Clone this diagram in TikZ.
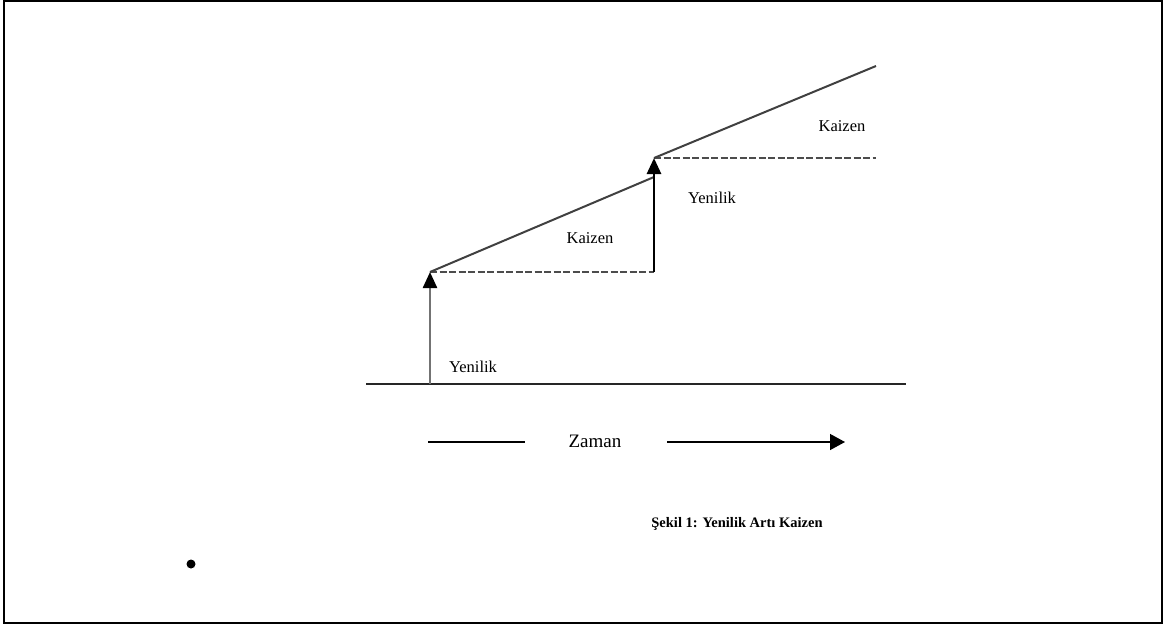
\documentclass[tikz,border=0pt]{standalone}
\usepackage{fontspec}
\setmainfont{Liberation Serif}
\usetikzlibrary{arrows.meta,positioning}

\begin{document}
\begin{tikzpicture}[
    x=1pt, y=-1pt,
    lbl/.style={font=\fontsize{16.5}{18}\selectfont, inner sep=0pt},
    rise/.style={line width=2pt, draw=black!75},
    level/.style={line width=2pt, draw=black!70, dash pattern=on 7pt off 2.5pt},
    jump/.style={line width=2.4pt, -{Triangle[width=14pt,length=16pt,fill=black,color=black]}},
    axis/.style={line width=1.6pt, draw=black!85}
]
  % page frame and fixed size
  \useasboundingbox (0,0) rectangle (1168,625);
  \draw[line width=1.5pt] (4,1) rectangle (1162,623);

  % points of the step curve
  \coordinate (o1) at (430,384);
  \coordinate (p1) at (430,272);
  \coordinate (b2) at (654,272);
  \coordinate (q1) at (654,177);
  \coordinate (p2) at (654,158);
  \coordinate (e1) at (876,158);
  \coordinate (e2) at (876,66);

  % time axis
  \coordinate (axl) at (366,384);
  \coordinate (axr) at (906,384);
  \draw[axis] (axl) -- (axr);

  % dashed levels and kaizen slopes
  \draw[level] (p1) -- (b2);
  \draw[level] (p2) -- (e1);
  \draw[rise] (p1) -- (q1);
  \draw[rise] (p2) -- (e2);

  % innovation jumps
  \draw[jump, draw=black!55] (o1) -- (p1);
  \draw[jump, line width=2.8pt] (b2) -- (p2);

  % labels
  \node[lbl] (yen1) at (473,367) {Yenilik};
  \node[lbl] (kai1) at (590,238) {Kaizen};
  \node[lbl] (yen2) at (712,198) {Yenilik};
  \node[lbl] (kai2) at (842,126) {Kaizen};

  % Zaman arrow
  \node[lbl, font=\fontsize{19}{20}\selectfont] (zaman) at (595,441) {Zaman};
  \coordinate (zl1) at (428,442);
  \coordinate (zl2) at (525,442);
  \coordinate (zr1) at (667,442);
  \coordinate (zr2) at (845,442);
  \draw[line width=1.4pt] (zl1) -- (zl2);
  \draw[line width=1.4pt, -{Triangle[width=16pt,length=15pt]}] (zr1) -- (zr2);

  % caption
  \node[lbl, font=\fontsize{14.5}{16}\selectfont\bfseries] (cap) at (737,524)
       {Şekil 1: Yenilik Artı Kaizen};

  % stray bullet
  \node[circle, fill, inner sep=0pt, minimum size=9pt] (dot) at (191,564) {};

\end{tikzpicture}
\end{document}
